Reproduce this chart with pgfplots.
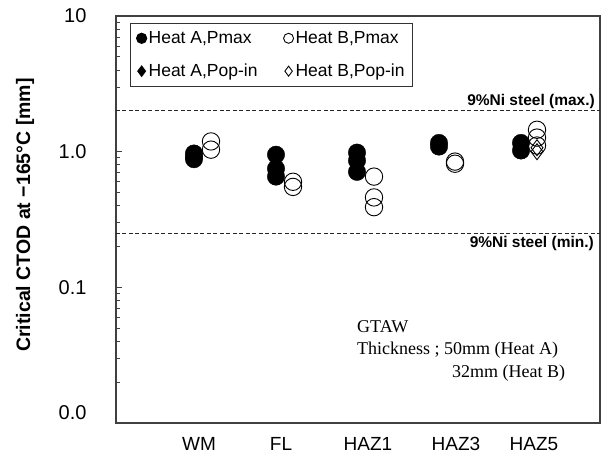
\documentclass[border=0pt]{standalone}
\usepackage{fontspec}
\setmainfont{Liberation Sans}
\newfontfamily\timesfont{Liberation Serif}
\usepackage{pgfplots}
\pgfplotsset{compat=1.18}
\begin{document}
\begin{tikzpicture}
\useasboundingbox (-116pt,-36pt) rectangle (487pt,423pt);
\begin{axis}[
 at={(0,0)}, anchor=south west,
 scale only axis, width=484pt, height=407pt,
 xmin=116, xmax=600, ymin=0.01, ymax=10, ymode=log,
 axis line style={draw=black!75, line width=1.4pt},
 xtick={199,281,368,456,534}, xticklabels={WM,FL,HAZ1,HAZ3,HAZ5},
 x tick label style={font=\fontsize{19}{22}\selectfont, yshift=-11pt},
 xtick style={draw=none},
 ytick={0.1,1,10}, yticklabels={0.1,1.0,10},
 extra y ticks={0.01}, extra y tick labels={0.0},
 extra y tick style={yticklabel style={yshift=10pt}},
 minor ytick={0.02,0.03,0.04,0.05,0.06,0.07,0.08,0.09,0.2,0.3,0.4,0.5,0.6,0.7,0.8,0.9,2,3,4,5,6,7,8,9},
 ytick pos=left, tick align=inside,
 major tick length=6pt, minor tick length=4pt,
 every tick/.style={draw=black!75, line width=0.8pt},
 y tick label style={font=\fontsize{20}{24}\selectfont, xshift=-26pt},
 ylabel={\textbf{Critical CTOD at −165°C [mm]}},
 ylabel style={at={(axis description cs:-0.188,0.511)}, anchor=center, font=\fontsize{19.5}{22}\selectfont},
 legend columns=2,
 legend cell align=left,
 legend style={at={(rel axis cs:0.029,0.983)}, anchor=north west, draw=black!80, line width=1.2pt,
   font=\fontsize{17.5}{20}\selectfont, row sep=15pt, inner sep=6pt,
   /tikz/every even column/.append style={column sep=24pt}},
 legend image code/.code={\draw[#1] plot coordinates {(0.15cm,0cm)};},
]
\addplot[only marks, mark=*, mark size=8.7pt, black, legend image post style={mark size=5pt}] coordinates {
 (194,0.97) (194,0.92) (194,0.88)
 (276,0.95) (276,0.75) (276,0.655)
 (357,0.985) (357,0.86) (357,0.71)
 (439,1.16) (439,1.09)
 (521,1.16) (521,1.02)
};
\addlegendentry{Heat A,Pmax}
\addplot[only marks, mark=o, mark size=8.7pt, black, mark options={line width=0.9pt}, legend image post style={mark size=5pt}] coordinates {
 (211,1.19) (211,1.035)
 (293,0.60) (293,0.55)
 (374,0.655) (374,0.46) (374,0.39)
 (455,0.845) (455,0.815)
 (537,1.45) (537,1.27) (537,1.11)
};
\addlegendentry{Heat B,Pmax}
\addplot[only marks, mark=diamond*, mark size=8pt, black, legend image post style={mark size=5pt}] coordinates {
 (521,1.05)
};
\addlegendentry{Heat A,Pop-in}
\addplot[only marks, mark=diamond, mark size=8pt, black, mark options={line width=0.9pt}, legend image post style={mark size=5pt}] coordinates {
 (537,1.0) (537,1.07)
};
\addlegendentry{Heat B,Pop-in}
\addplot[black!85, line width=1pt, dash pattern=on 4pt off 2.5pt, forget plot] coordinates {(116,2) (600,2)};
\addplot[black!85, line width=1pt, dash pattern=on 4pt off 2.5pt, forget plot] coordinates {(116,0.25) (600,0.25)};
\node[anchor=south east, font=\bfseries\fontsize{15.5}{18}\selectfont, inner sep=2pt] at (axis cs:597,2) {9\%Ni steel (max.)};
\node[anchor=north east, font=\bfseries\fontsize{15.5}{18}\selectfont, inner sep=3pt] at (axis cs:597,0.25) {9\%Ni steel (min.)};
\node[anchor=west, font=\timesfont\fontsize{18}{20}\selectfont, inner sep=0pt] at (rel axis cs:0.498,0.236) {GTAW};
\node[anchor=west, font=\timesfont\fontsize{18}{20}\selectfont, inner sep=0pt] at (rel axis cs:0.498,0.179) {Thickness ; 50mm (Heat A)};
\node[anchor=west, font=\timesfont\fontsize{18}{20}\selectfont, inner sep=0pt] at (rel axis cs:0.694,0.123) {32mm (Heat B)};
\end{axis}
\end{tikzpicture}
\end{document}
